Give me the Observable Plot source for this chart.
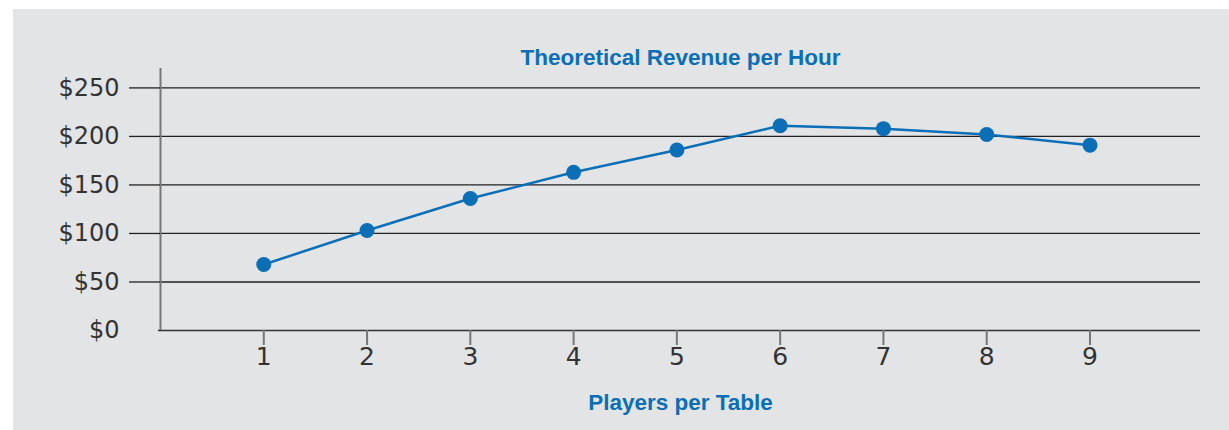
<!DOCTYPE html>
<html>
<head>
<meta charset="utf-8">
<script src="https://cdn.jsdelivr.net/npm/d3@7"></script>
<script src="https://cdn.jsdelivr.net/npm/@observablehq/plot@0.6"></script>
<style>
  html, body { margin: 0; padding: 0; background: #ffffff; }
  #panel { position: absolute; left: 13px; top: 9px; width: 1216px; height: 421px; background: #e3e4e6; }
  #panel svg { display: block; background: transparent; }
</style>
</head>
<body>
<div id="panel"></div>
<script>
const title = "Theoretical Revenue per Hour";
const xLabel = "Players per Table";
const players = [1, 2, 3, 4, 5, 6, 7, 8, 9];
const revenue = [68, 103, 136, 163, 186, 211, 208, 202, 191];
const yTicks = [50, 100, 150, 200, 250];
const xTicks = [1, 2, 3, 4, 5, 6, 7, 8, 9];

const data = players.map((p, i) => ({players: p, revenue: revenue[i]}));
const blue = "#0a6fb7";
const fmt = d => "$" + d;

const chart = Plot.plot({
  width: 1216,
  height: 421,
  marginLeft: 147,
  marginRight: 29,
  marginTop: 59,
  marginBottom: 100,
  style: {background: "transparent", fontFamily: "DejaVu Sans, sans-serif"},
  x: {domain: [0, 10.07], axis: null},
  y: {domain: [0, 270], axis: null},
  marks: [
    Plot.ruleY(yTicks, {stroke: "#222", strokeWidth: 1.3}),
    Plot.ruleY([0], {stroke: "#333", strokeWidth: 1.5, x1: -0.02, x2: 10.07}),
    Plot.ruleX([0], {y1: 0, y2: 270, stroke: "#777", strokeWidth: 2}),
    Plot.axisY({ticks: yTicks, label: null, tickSize: 31, tickPadding: 10, tickFormat: fmt, stroke: "#222", strokeWidth: 1.3, fill: "#333", fontSize: 24}),
    Plot.axisY({ticks: [0], label: null, tickSize: 0, tickPadding: 41, tickFormat: fmt, fill: "#333", fontSize: 24}),
    Plot.axisX({ticks: xTicks, label: null, tickSize: 15, tickPadding: 2, stroke: "#777", strokeWidth: 2, fill: "#333", fontSize: 25}),
    Plot.line(data, {x: "players", y: "revenue", stroke: blue, strokeWidth: 2.5}),
    Plot.dot(data, {x: "players", y: "revenue", r: 7.5, fill: blue, stroke: "none"}),
    Plot.text([title], {frameAnchor: "top", dy: -4, lineAnchor: "bottom", fill: blue, fontWeight: "bold", fontSize: 22.5, fontFamily: "Liberation Sans, Arial, sans-serif", text: d => d}),
    Plot.text([xLabel], {frameAnchor: "bottom", dy: 79, lineAnchor: "bottom", fill: blue, fontWeight: "bold", fontSize: 22.5, fontFamily: "Liberation Sans, Arial, sans-serif", text: d => d})
  ]
});
document.getElementById("panel").appendChild(chart);
</script>
</body>
</html>
